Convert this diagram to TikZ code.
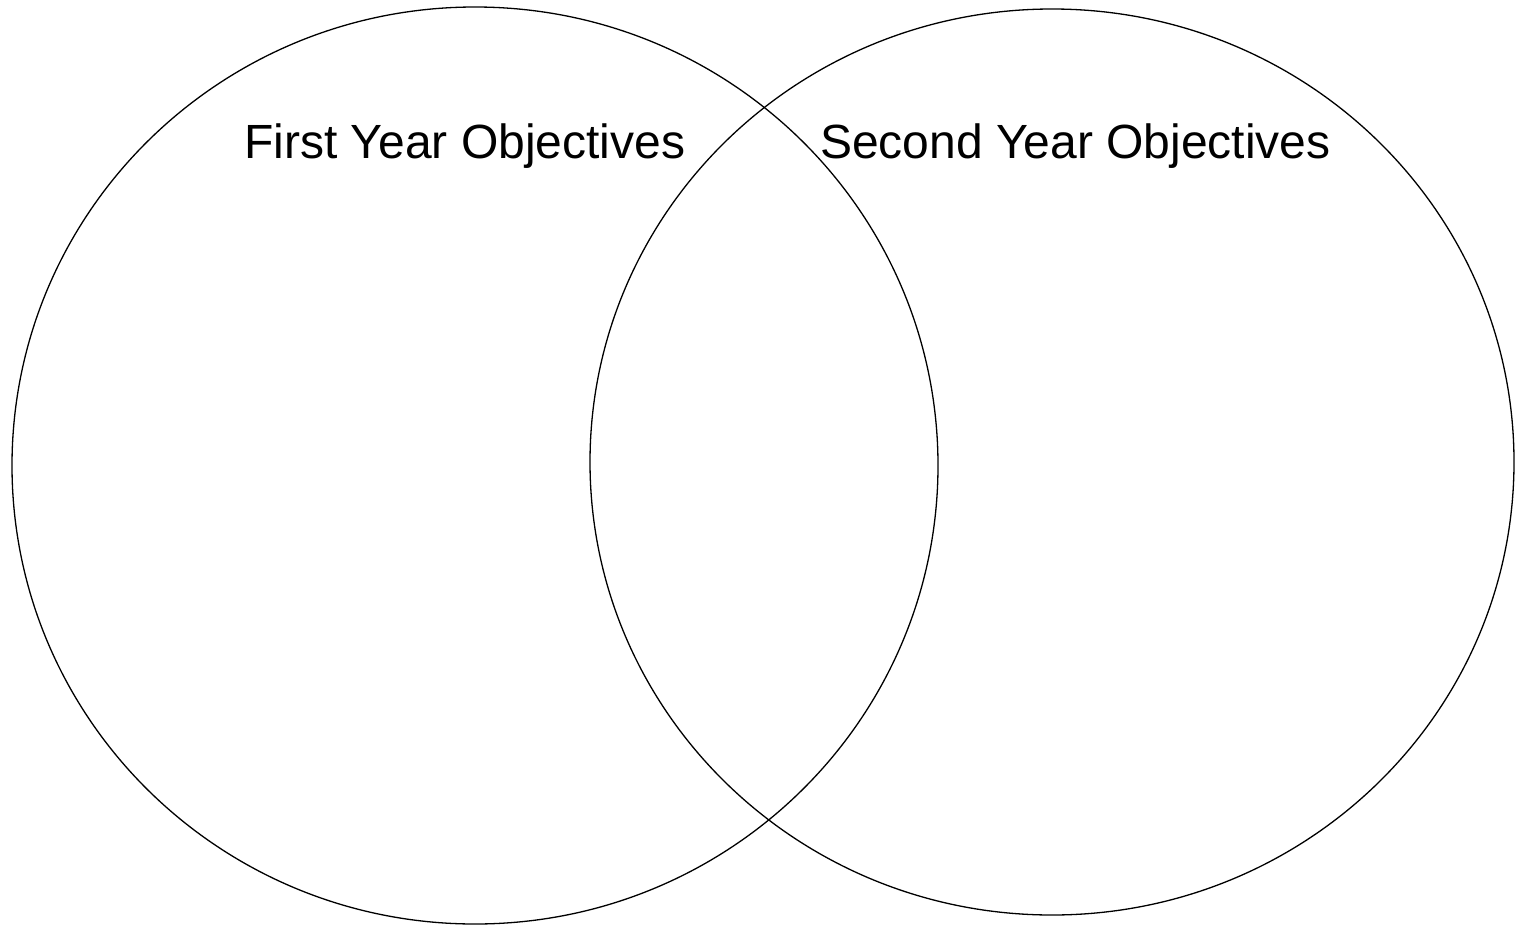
\documentclass[tikz,border=0pt]{standalone}
\usepackage{fontspec}
\setmainfont{Liberation Sans}
\begin{document}
\begin{tikzpicture}[x=1pt,y=-1pt,
  venn/.style={draw=black,line width=1.3pt},
  lbl/.style={anchor=base west,inner sep=0pt,font=\fontsize{48}{56}\selectfont}]
\useasboundingbox[fill=white] (0,0) rectangle (1517,926);
\draw[venn] (475,465.5) ellipse [x radius=463, y radius=458.5];
\draw[venn] (1052,462) ellipse [x radius=462, y radius=453];
\node[lbl] (first) at (244,158) {First Year Objectives};
\node[lbl] (second) at (820,158) {Second Year Objectives};
\end{tikzpicture}
\end{document}
